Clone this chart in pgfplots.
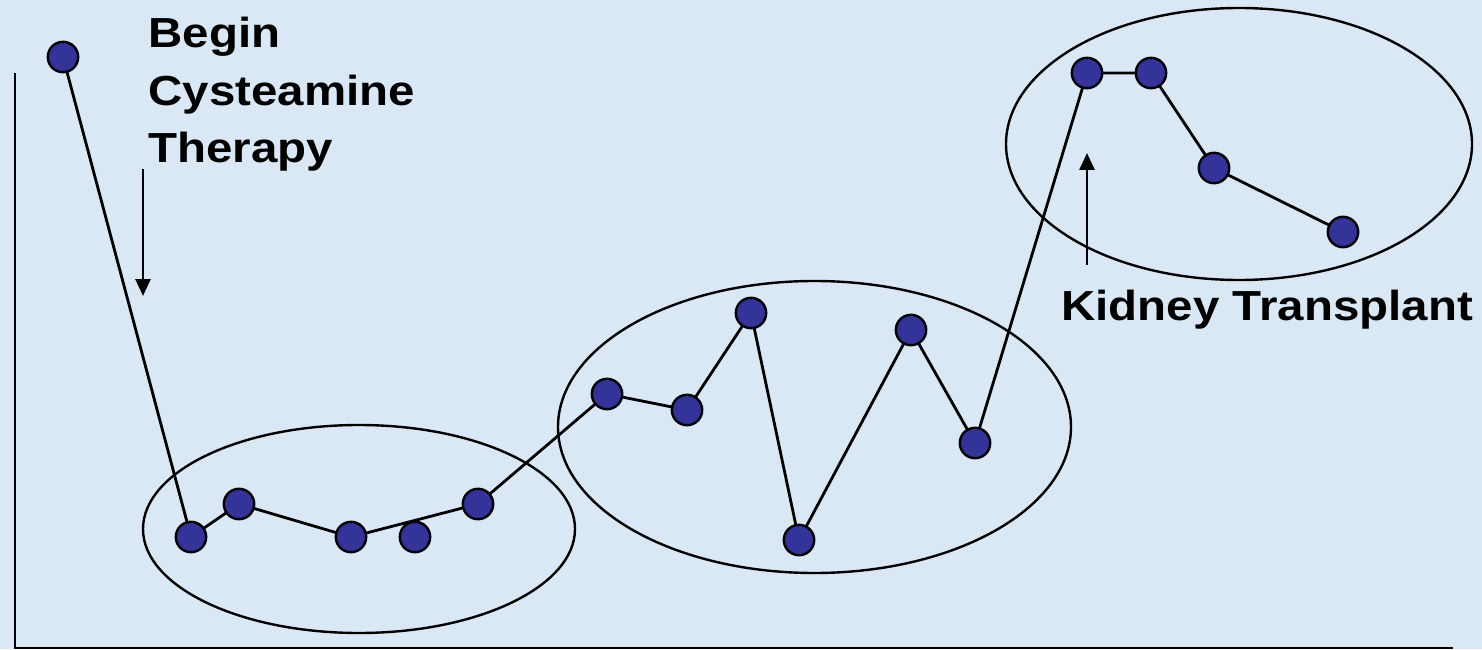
\documentclass[border=0pt]{standalone}
\usepackage{fontspec}
\setmainfont{Liberation Sans}
\usepackage{pgfplots}
\usepackage{pgfplotstable}
\pgfplotsset{compat=1.18}
\usetikzlibrary{arrows.meta}
\definecolor{bgblue}{RGB}{218,232,245}
\definecolor{dotblue}{RGB}{51,51,153}

% connected measurements (pixel-like units, y up)
\pgfplotstableread{
x y
63 592
191 112
239 145
351 112
478 145
607 255
687 239
751 336
799 109
911 319
975 206
1087 576
1151 576
1214 481
1343 417
}\series
% the lone point that is not joined
\pgfplotstableread{
x y
415 112
}\lone

\newcommand{\lbl}[1]{\scalebox{1.13}[1]{#1}}

\begin{document}
\begin{tikzpicture}
\begin{axis}[
  x=0.5pt, y=0.5pt,
  xmin=0, xmax=1482, ymin=0, ymax=649,
  hide axis,
  clip=false,
]
\fill[bgblue] (0,0) rectangle (1482,649);
% axis lines
\draw[line width=1.4pt] (15,576) -- (15,1) -- (1453,1);

% group ellipses
\draw[line width=1.2pt] (359,120) ellipse [x radius=108pt, y radius=52pt];
\draw[line width=1.2pt] (814.5,222) ellipse [x radius=128.25pt, y radius=73pt];
\draw[line width=1.2pt] (1239,505) ellipse [x radius=116.5pt, y radius=68pt];

% markers first, then the line over them
\addplot[only marks, mark=*, mark size=7.6pt,
  mark options={fill=dotblue, draw=black, line width=1.2pt}] table {\series};
\addplot[only marks, mark=*, mark size=7.6pt,
  mark options={fill=dotblue, draw=black, line width=1.2pt}] table {\lone};
\addplot[black, line width=1.4pt, no marks] table {\series};

% annotations
\draw[line width=1.4pt, -{Triangle[width=7.5pt, length=8.5pt]}] (143,480) -- (143,353);
\draw[line width=1.4pt, -{Triangle[width=7.5pt, length=8.5pt]}] (1087,384) -- (1087,496);

\begin{scope}[every node/.style={anchor=base west, inner sep=0pt,
  font=\bfseries\fontsize{21}{25}\selectfont}]
\node at (148,601) {\lbl{Begin}};
\node at (148,543) {\lbl{Cysteamine}};
\node at (148,486) {\lbl{Therapy}};
\node at (1061,329) {\lbl{Kidney Transplant}};
\end{scope}
\end{axis}
\end{tikzpicture}
\end{document}
